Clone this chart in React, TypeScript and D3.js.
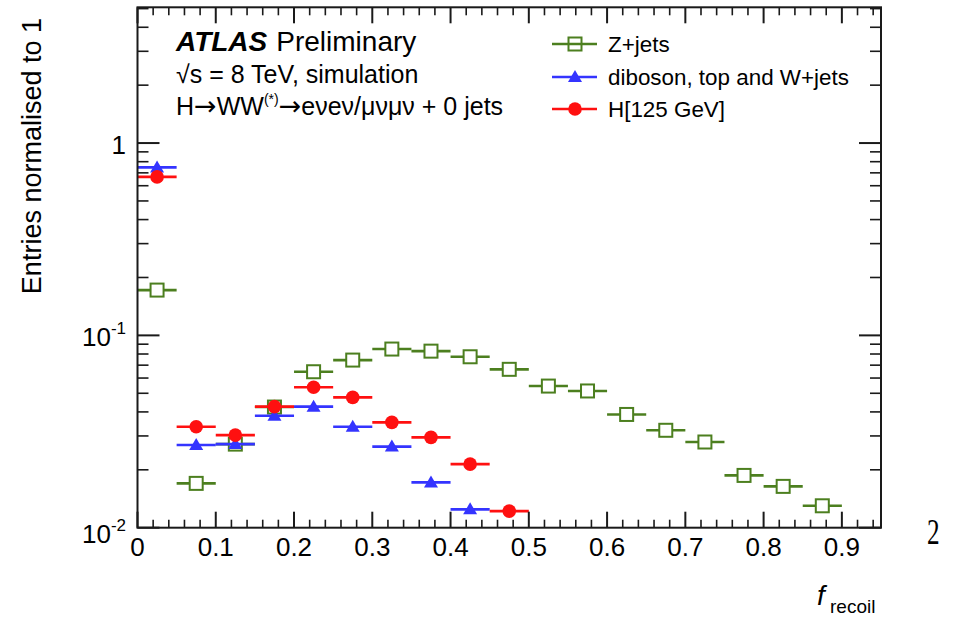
import React from "react";
import * as d3 from "d3";

const binCenters = [0.025, 0.075, 0.125, 0.175, 0.225, 0.275, 0.325, 0.375, 0.425, 0.475, 0.525, 0.575, 0.625, 0.675, 0.725, 0.775, 0.825, 0.875];
const binHalfWidth = 0.025;
const zjets = [0.172, 0.017, 0.0272, 0.0424, 0.0647, 0.0744, 0.0849, 0.0828, 0.0774, 0.0666, 0.0545, 0.0514, 0.0388, 0.0321, 0.0279, 0.0187, 0.0164, 0.013];
const diboson = [0.747, 0.0269, 0.0272, 0.0382, 0.0426, 0.0335, 0.0264, 0.0172, 0.01246];
const higgs = [0.667, 0.0335, 0.0303, 0.0426, 0.0537, 0.0476, 0.0353, 0.0295, 0.0214, 0.0122];

const xTicks = [0, 0.1, 0.2, 0.3, 0.4, 0.5, 0.6, 0.7, 0.8, 0.9];
const xTickLabels = ["0", "0.1", "0.2", "0.3", "0.4", "0.5", "0.6", "0.7", "0.8", "0.9"];
const yMajor = [0.01, 0.1, 1];
const yMajorExp = ["-2", "-1", ""];

const GREEN = "#4c7f1f";
const BLUE = "#3434ff";
const RED = "#ff1010";
const AX = "#1a1a1a";
const FONT = "'Liberation Sans', Arial, Helvetica, sans-serif";
const ARROW_FONT = "'DejaVu Sans', sans-serif";

const L = 137.5, R = 881, T = 7.3, B = 527.7;

export default function App() {
  const x = d3.scaleLinear().domain([0, 0.95]).range([L, R]);
  const y = d3.scaleLog().domain([0.01, 5.08]).range([B, T]);

  const xMinor = d3.range(0, 0.95, 0.02).filter((v) => Math.abs(v * 10 - Math.round(v * 10)) > 1e-6);
  const yMinor: number[] = [];
  [0.01, 0.1, 1].forEach((d) => {
    for (let k = 2; k <= 9; k++) {
      const v = d * k;
      if (v <= 5.08) yMinor.push(v);
    }
  });

  const hw = x(binHalfWidth) - x(0);

  const triangle = (cx: number, cy: number, s = 1) =>
    `M${cx},${cy - 7 * s}L${cx + 7 * s},${cy + 5 * s}L${cx - 7 * s},${cy + 5 * s}Z`;

  const bars = (vals: number[], color: string) =>
    vals.map((v, i) => (
      <line key={"b" + i} x1={x(binCenters[i]) - hw} x2={x(binCenters[i]) + hw} y1={y(v)} y2={y(v)} stroke={color} strokeWidth={2.6} />
    ));

  return (
    <div style={{ position: "absolute", left: 0, top: 0 }}>
      <svg width={957} height={621} style={{ display: "block", background: "#fff" }} fontFamily={FONT}>
        <rect x={0} y={0} width={957} height={621} fill="#fff" />

        {/* Z+jets */}
        {bars(zjets, GREEN)}
        {zjets.map((v, i) => (
          <rect key={"z" + i} x={x(binCenters[i]) - 6.5} y={y(v) - 6.5} width={13} height={13} fill="#fff" stroke={GREEN} strokeWidth={2} />
        ))}

        {/* diboson */}
        {bars(diboson, BLUE)}
        {diboson.map((v, i) => (
          <path key={"d" + i} d={triangle(x(binCenters[i]), y(v))} fill={BLUE} />
        ))}

        {/* Higgs */}
        {bars(higgs, RED)}
        {higgs.map((v, i) => (
          <circle key={"h" + i} cx={x(binCenters[i])} cy={y(v)} r={6.8} fill={RED} />
        ))}

        {/* frame */}
        <rect x={L} y={T} width={R - L} height={B - T} fill="none" stroke={AX} strokeWidth={2} />

        {/* x ticks */}
        {xTicks.map((t) => (
          <g key={"xt" + t}>
            <line x1={x(t)} x2={x(t)} y1={B} y2={B - 16} stroke={AX} strokeWidth={2} />
            <line x1={x(t)} x2={x(t)} y1={T} y2={T + 16} stroke={AX} strokeWidth={2} />
          </g>
        ))}
        {xMinor.map((t) => (
          <g key={"xm" + t}>
            <line x1={x(t)} x2={x(t)} y1={B} y2={B - 8} stroke={AX} strokeWidth={1.6} />
            <line x1={x(t)} x2={x(t)} y1={T} y2={T + 8} stroke={AX} strokeWidth={1.6} />
          </g>
        ))}
        {xTicks.map((t, i) => (
          <text key={"xl" + t} x={x(t)} y={556} textAnchor="middle" fontSize={26} fill="#000">
            {xTickLabels[i]}
          </text>
        ))}

        {/* y ticks */}
        {yMajor.map((t) => (
          <g key={"yt" + t}>
            <line x1={L} x2={L + 22} y1={y(t)} y2={y(t)} stroke={AX} strokeWidth={2} />
            <line x1={R} x2={R - 22} y1={y(t)} y2={y(t)} stroke={AX} strokeWidth={2} />
          </g>
        ))}
        {yMinor.map((t) => (
          <g key={"ym" + t}>
            <line x1={L} x2={L + 11} y1={y(t)} y2={y(t)} stroke={AX} strokeWidth={1.6} />
            <line x1={R} x2={R - 11} y1={y(t)} y2={y(t)} stroke={AX} strokeWidth={1.6} />
          </g>
        ))}
        {yMajor.map((t, i) => (
          <text key={"yl" + t} x={126} y={y(t) + (t === 0.01 ? 15 : 11)} textAnchor="end" fontSize={26} fill="#000">
            {yMajorExp[i] === "" ? "1" : "10"}
            {yMajorExp[i] !== "" && (
              <tspan fontSize={17} dy={-12}>
                {yMajorExp[i]}
              </tspan>
            )}
          </text>
        ))}

        {/* axis titles */}
        <text transform="translate(41,18) rotate(-90)" textAnchor="end" fontSize={27} fill="#000">
          Entries normalised to 1
        </text>
        <text x={817} y={605} fontSize={28} fontStyle="italic" fill="#000">f</text>
        <text x={830} y={613} fontSize={19} fill="#000">recoil</text>

        {/* header */}
        <text x={176} y={51} fontSize={28} fill="#000">
          <tspan fontWeight="bold" fontStyle="italic">ATLAS</tspan>
          <tspan dx={9}>Preliminary</tspan>
        </text>
        <text x={176} y={83} fontSize={25} fill="#000">√s = 8 TeV, simulation</text>
        <text x={176} y={115} fontSize={25} fill="#000">
          H<tspan fontFamily={ARROW_FONT} fontSize={27}>→</tspan>WW<tspan fontSize={14} dy={-11}>(*)</tspan>
          <tspan dy={11} fontFamily={ARROW_FONT} fontSize={27}>→</tspan>
          <tspan>eνeν/μνμν + 0 jets</tspan>
        </text>

        {/* legend */}
        <g>
          <line x1={552} x2={597} y1={44} y2={44} stroke={GREEN} strokeWidth={2.6} />
          <rect x={575 - 6.5} y={44 - 6.5} width={13} height={13} fill="none" stroke={GREEN} strokeWidth={2} />
          <text x={608} y={52} fontSize={22.4} fill="#000">Z+jets</text>

          <line x1={552} x2={597} y1={77} y2={77} stroke={BLUE} strokeWidth={2.6} />
          <path d={triangle(575, 77)} fill={BLUE} />
          <text x={608} y={85} fontSize={22.4} fill="#000">diboson, top and W+jets</text>

          <line x1={552} x2={597} y1={109} y2={109} stroke={RED} strokeWidth={2.6} />
          <circle cx={575} cy={109} r={6.8} fill={RED} />
          <text x={608} y={117} fontSize={22.4} fill="#000">H[125 GeV]</text>
        </g>

        {/* stray page number */}
        <text transform="translate(927,544) scale(0.72,1)" fontSize={35} fontFamily="'Liberation Serif', 'DejaVu Serif', serif" fill="#000">
          2
        </text>
      </svg>
    </div>
  );
}
